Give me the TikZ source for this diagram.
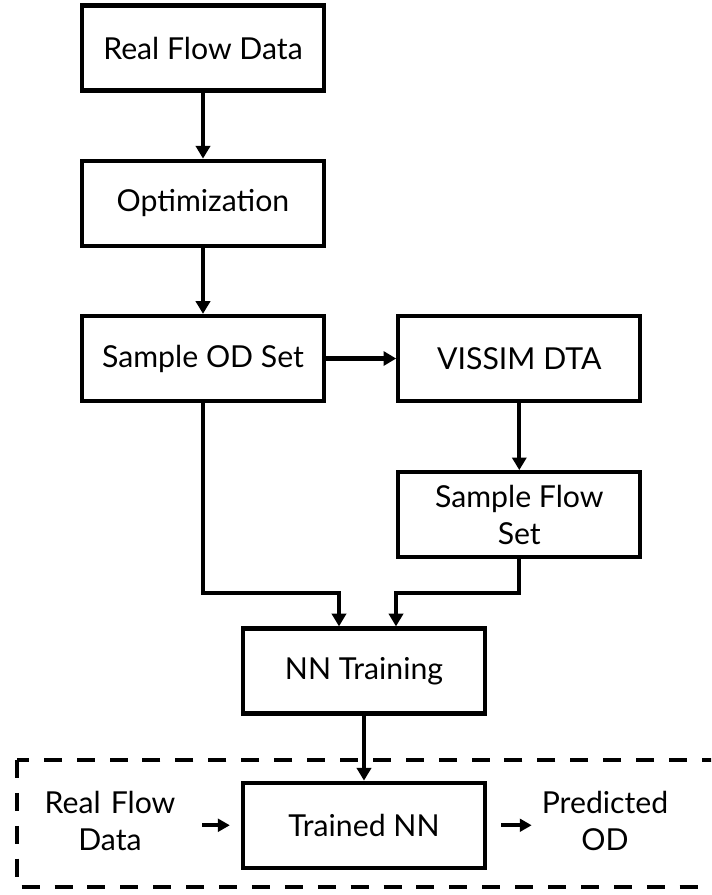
\documentclass[tikz,border=0pt]{standalone}
\usepackage{fontspec}
\setmainfont{Lato}
\usetikzlibrary{positioning,arrows.meta,calc}

\begin{document}
\begin{tikzpicture}[x=0.025cm,y=-0.025cm,
    font=\fontsize{21.5}{26}\selectfont,
    stagebox/.style={draw,line width=3pt,minimum width=6.05cm,minimum height=2.125cm,align=center,inner sep=2pt},
    plaintext/.style={align=center,text width=3.5cm,inner sep=0pt},
    arr/.style={line width=3pt,-{Triangle[length=9pt,width=10pt]}},
    sarr/.style={line width=3pt,-{Triangle[length=8.5pt,width=9pt]}},
    dashbox/.style={line width=3.2pt,dash pattern=on 12.8pt off 10.6pt},
    node distance=1.65cm]
  \useasboundingbox (0,0) rectangle (711,895);

  \node[stagebox] (rfd) at (203,48) {Real Flow Data};
  \node[stagebox, below=of rfd] (opt) {Optimization};
  \node[stagebox, below=of opt] (sod) {Sample OD Set};
  \node[stagebox, right=1.75cm of sod] (vis) {VISSIM DTA};
  \node[stagebox, below=1.675cm of vis] (sfs) {Sample Flow\\Set};
  \node[stagebox] (nnt) at (364,671) {NN Training};
  \node[stagebox, below=1.625cm of nnt] (tnn) {Trained NN};
  \node[plaintext] (rfdin) at (110,821) {Real Flow\\Data};
  \node[plaintext] (pod) at (605,821) {Predicted\\OD};

  \coordinate (jl) at ([xshift=-0.625cm,yshift=0.825cm]nnt.north);
  \coordinate (jr) at ([xshift=0.8cm,yshift=0.825cm]nnt.north);

  \draw[arr] (rfd) -- (opt);
  \draw[arr] (opt) -- (sod);
  \draw[arr] (sod) -- (vis);
  \draw[arr] (vis) -- (sfs);
  \draw[arr] (sod.south) |- (jl) -- (jl |- nnt.north);
  \draw[arr] (sfs.south) |- (jr) -- (jr |- nnt.north);
  \draw[arr] (nnt) -- (tnn);
  \draw[sarr, shorten <=0.55cm, shorten >=0.275cm] (rfdin.east |- tnn.west) -- (tnn.west);
  \draw[sarr, shorten <=0.35cm, shorten >=0.075cm] (tnn.east) -- (tnn.east -| pod.west);

  \begin{scope}
    \clip (0,0) rectangle (711,895);
    \draw[dashbox] (17,760) rectangle (735,887);
  \end{scope}
\end{tikzpicture}
\end{document}
